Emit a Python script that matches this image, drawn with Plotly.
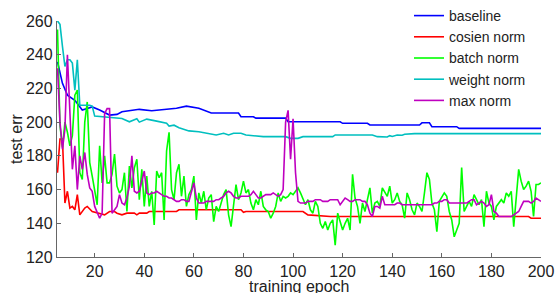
import plotly.graph_objects as go

# ---------------- data ----------------
epochs = list(range(5, 201))

baseline_epochs = [5, 7, 9, 12, 15, 17, 19, 22, 26, 29, 31, 38, 43, 46, 53, 57, 62, 67, 78, 79,
                   84, 85, 97, 98, 119, 120, 130, 131, 151, 152, 155, 156, 166, 167, 200]
baseline_vals = [235.8, 223, 216, 213, 207.2, 208.2, 209, 207.2, 204.2, 204.6, 206.2, 207.6, 206.8,
                 207.2, 208.2, 209.5, 208.2, 205.4, 205.4, 203.2, 203.2, 202.4, 202.4, 200.2, 200.2,
                 199.3, 199.3, 198.3, 198.3, 199.6, 199.6, 197.3, 197.3, 196.3, 196.3]

cosine_epochs = [5, 6, 7, 8, 9, 10, 11, 12, 13, 14, 16, 17, 19, 22, 24, 26, 28, 29, 31, 33, 36, 37,
                 38, 41, 42, 53, 54, 79, 80, 81, 104, 106, 110, 115, 195, 196, 200]
cosine_vals = [170, 190, 190, 152, 159, 149, 150, 148, 157, 145, 149, 150, 147, 146, 145, 147, 147,
               146, 145, 146, 146, 145, 146, 146, 147, 147, 148, 148, 146.5, 147, 147, 145, 144.5,
               144, 144, 143, 143]

batch_vals = [
    255, 198, 185, 200, 194, 186, 192, 216, 219, 170,
    166, 200, 212, 176, 168, 160, 151, 186, 164, 180,
    164, 164, 169, 181, 162, 158, 160, 170, 147, 174,
    161, 173, 178, 154, 172, 150, 168, 150, 159, 139,
    171, 167, 170, 142, 183, 194, 160, 154, 170, 175,
    156, 168, 150, 157, 160, 168, 142, 158, 152, 159,
    148, 155, 157, 141, 150, 147, 152, 157, 160, 145,
    138, 152, 163, 154, 158, 165, 158, 160, 152, 148,
    154, 151, 159, 150, 148, 147, 143, 146, 150, 158,
    153, 156, 155, 156, 158, 157, 159, 161, 158, 154,
    151, 154, 148, 146, 153, 150, 140, 137, 141, 136,
    140, 142, 127, 146, 141, 136, 140, 143, 136, 169,
    155, 150, 140, 152, 147, 155, 161, 146, 152, 153,
    150, 161, 158, 156, 162, 152, 154, 158, 153, 151,
    143, 158, 154, 148, 145, 152, 150, 147, 158, 170,
    166, 152, 148, 135, 153, 156, 158, 156, 147, 142,
    132, 136, 140, 173, 147, 150, 153, 150, 157, 154,
    151, 154, 138, 159, 152, 150, 142, 150, 152, 154,
    152, 158, 156, 159, 138, 155, 172, 165, 160, 162,
    165, 159, 144, 163, 163, 164,
]

weight_epochs = [5, 6, 7, 8, 9, 10, 11, 12, 13, 14, 18, 19, 20, 26, 31, 34, 37, 38, 41, 45, 49, 50,
                 52, 54, 58, 62, 66, 69, 72, 74, 76, 79, 81, 88, 97, 99, 102, 104, 116, 117, 132,
                 134, 138, 139, 140, 142, 144, 145, 149, 200]
weight_vals = [260, 258, 245, 233, 237, 237, 235, 219, 237, 210, 210, 209.5, 203.6, 202.8, 202.2,
               200.2, 202, 200, 201.8, 200.6, 199.3, 197.7, 198.2, 196.7, 194.8, 194.3, 193.4, 192.4,
               193.4, 192.4, 193.4, 193.4, 192.4, 191.4, 191.4, 190.4, 190.4, 191.4, 191.4, 192.4,
               192.4, 191.4, 191.2, 192, 191.5, 192.4, 192.2, 192.8, 193.2, 193.2]

max_vals = [
    232, 200, 184, 196, 240, 206, 172, 186, 160, 180,
    172, 182, 169, 161, 159, 150, 147, 143, 146, 205,
    208, 208, 146, 148, 150, 157, 152, 151, 155, 162,
    180, 159, 158, 159, 165, 171, 158, 157, 158, 158,
    159, 158, 157, 156, 156, 155, 155, 154, 153, 153,
    154, 154, 153, 153, 158, 164, 155, 152, 152, 152,
    153, 153, 153, 153, 154, 154, 155, 156, 158, 159,
    158, 156, 155, 155, 156, 156, 156, 156, 157, 159,
    157, 155, 155, 156, 157, 157, 157, 158, 157, 156,
    157, 160, 200, 207, 178, 202, 170, 153, 152, 152,
    152, 153, 153, 153, 154, 154, 154, 153, 153, 153,
    154, 154, 154, 154, 151, 153, 155, 154, 153, 153,
    154, 154, 154, 153, 153, 151, 146, 144, 150, 150,
    149, 156, 151, 151, 151, 151, 151, 152, 152, 151,
    151, 151, 151, 151, 151, 151, 151, 151, 151, 151,
    151, 151, 152, 152, 153, 153, 154, 154, 152, 152,
    152, 152, 152, 152, 152, 152, 153, 154, 154, 151,
    152, 153, 152, 150, 151, 157, 147, 146, 144, 144,
    144, 144, 144, 144, 145, 146, 147, 150, 153, 153,
    153, 152, 153, 155, 154, 153,
]

x_ticks = [20, 40, 60, 80, 100, 120, 140, 160, 180, 200]
y_ticks = [120, 140, 160, 180, 200, 220, 240, 260]
x_title = "training epoch"
y_title = "test err"

# ---------------- figure ----------------
FONT = "Liberation Sans, Arial, Helvetica, sans-serif"
LW = 1.6
W, H = 556, 293
# plot-area edges in pixels (axes placed via domains, zero margins)
PX_L, PX_R, PX_T, PX_B = 57, 541, 21, 257

fig = go.Figure()
fig.add_trace(go.Scatter(x=baseline_epochs, y=baseline_vals, mode="lines", name="baseline",
                         line=dict(color="#0000FF", width=LW)))
fig.add_trace(go.Scatter(x=cosine_epochs, y=cosine_vals, mode="lines", name="cosien norm",
                         line=dict(color="#FF0000", width=LW)))
fig.add_trace(go.Scatter(x=epochs, y=batch_vals, mode="lines", name="batch norm",
                         line=dict(color="#00FF00", width=LW)))
fig.add_trace(go.Scatter(x=weight_epochs, y=weight_vals, mode="lines", name="weight norm",
                         line=dict(color="#00BFBF", width=LW)))
fig.add_trace(go.Scatter(x=epochs, y=max_vals, mode="lines", name="max norm",
                         line=dict(color="#BF00BF", width=LW)))

axis_common = dict(
    showgrid=False, zeroline=False, showline=True, linecolor="#666666", linewidth=1.3,
    ticks="inside", ticklen=4, tickcolor="#666666", tickwidth=1, mirror=False,
    tickfont=dict(family=FONT, size=16, color="#222222"),
)

fig.update_layout(
    width=W, height=H,
    margin=dict(l=0, r=0, t=0, b=0, autoexpand=False),
    paper_bgcolor="white", plot_bgcolor="white",
    font=dict(family=FONT, size=16, color="#222222"),
    xaxis=dict(range=[4.8, 200], tickvals=x_ticks, domain=[PX_L / W, PX_R / W], **axis_common),
    yaxis=dict(range=[120, 260], tickvals=y_ticks, domain=[(H - PX_B) / H, (H - PX_T) / H],
               **axis_common),
    legend=dict(x=409 / W, y=1.0, xanchor="left", yanchor="top", bgcolor="rgba(0,0,0,0)",
                borderwidth=0, font=dict(family=FONT, size=14, color="#222222"),
                itemwidth=30),
    showlegend=True,
    annotations=[
        dict(text=x_title, xref="paper", yref="paper", x=299 / W, y=(H - 286) / H,
             xanchor="center", yanchor="middle", showarrow=False,
             font=dict(family=FONT, size=16, color="#222222")),
        dict(text=y_title, xref="paper", yref="paper", x=16 / W, y=(H - 139) / H,
             xanchor="center", yanchor="middle", textangle=-90, showarrow=False,
             font=dict(family=FONT, size=16, color="#222222")),
    ],
)

fig.write_html("out.html", config={"displayModeBar": False},
               post_script="document.body.style.margin='0px';document.body.style.overflow='hidden';")
